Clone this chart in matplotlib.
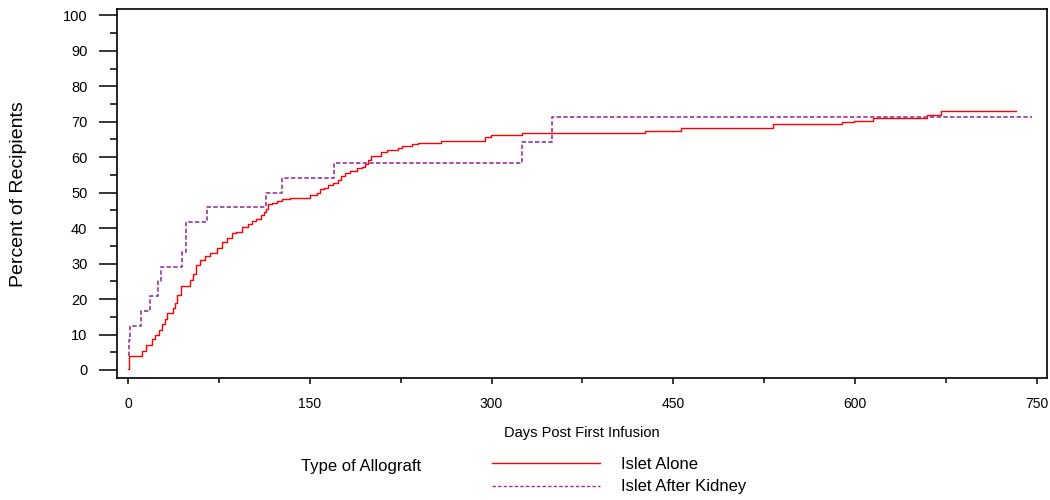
import matplotlib
matplotlib.use("Agg")
import matplotlib.pyplot as plt
from matplotlib.lines import Line2D
from matplotlib.ticker import MultipleLocator

plt.rcParams['font.family'] = ['Liberation Sans', 'DejaVu Sans']

# Islet Alone: cumulative percent, step after each day
alone_days = [0, 0.5, 11.4, 15, 19.6, 22.3, 25.9, 27.8, 30.6, 32, 36.9, 38.5, 40.2, 43.5,
              51.2, 53.9, 56.1, 59.4, 63.5, 67.7, 73.2, 77.3, 81.4, 85.5, 89, 93.8, 98.7,
              102, 106, 109.4, 112.2, 113.8, 115.7, 118.5, 122.6, 126.8, 133.6, 150.2,
              155.6, 158.3, 161.6, 165.2, 169.3, 173.4, 176.2, 179, 183, 188.6, 193.5,
              195.4, 198.1, 200.9, 209.2, 213.8, 222.9, 226.5, 234.7, 239.4, 258.6, 294.3,
              299.8, 325.4, 427, 456, 532, 589, 599.3, 614.4, 659, 670.8, 733]
alone_pct = [0.2, 3.8, 5.4, 7.0, 8.6, 9.8, 11.4, 12.9, 14.5, 16.0, 17.5, 18.9, 21.1, 23.6,
             25.3, 27.2, 29.6, 31.0, 32.1, 32.9, 34.3, 36.1, 37.1, 38.5, 39.0, 40.3, 41.3,
             42.0, 42.5, 43.6, 44.6, 45.5, 46.7, 47.1, 47.7, 48.2, 48.6, 49.3,
             49.8, 50.9, 51.3, 52.1, 52.6, 53.5, 54.6, 55.4, 56.2, 56.9, 57.3,
             58.1, 59.2, 60.4, 61.6, 62.1, 62.5, 63.2, 63.7, 64.1, 64.7, 65.6,
             66.3, 66.8, 67.5, 68.3, 69.3, 69.9, 70.2, 71.1, 71.9, 73.1, 73.1]

# Islet After Kidney
kidney_days = [0, 1, 2, 11, 18, 25, 27, 45, 48, 65, 114, 127, 170, 325, 350, 746]
kidney_pct = [4.17, 8.33, 12.5, 16.67, 20.83, 25.0, 29.17, 33.33, 41.67, 45.83,
              50.0, 54.17, 58.33, 64.29, 71.43, 71.43]

legend_labels = ["Islet Alone", "Islet After Kidney"]
red = "#ff0000"
purple = "#993399"

fig = plt.figure(figsize=(10.5, 5), dpi=100)
ax = fig.add_axes([0.1111, 0.2434, 0.8858, 0.738])

ax.step(alone_days, alone_pct, where='post', color=red, lw=1.0)
ax.step(kidney_days, kidney_pct, where='post', color=purple, lw=1.2,
        linestyle=(0, (2.6, 1.4)))

ax.set_xlim(-9.3, 758.1)
ax.set_ylim(-2.35, 101.7)
ax.xaxis.set_major_locator(MultipleLocator(150))
ax.xaxis.set_minor_locator(MultipleLocator(75))
ax.yaxis.set_major_locator(MultipleLocator(10))
ax.yaxis.set_minor_locator(MultipleLocator(5))

for s in ax.spines.values():
    s.set_linewidth(1.2)
ax.tick_params(axis='y', which='major', length=13, width=1.1, pad=8, labelsize=10.5)
ax.tick_params(axis='y', which='minor', length=5, width=1.1)
ax.tick_params(axis='x', which='major', length=4.5, width=1.1, pad=9, labelsize=10)
ax.tick_params(axis='x', which='minor', length=3.5, width=1.1)

ax.set_xlabel("Days Post First Infusion", fontsize=10.5, va='center')
ax.xaxis.set_label_coords(0.5, -0.148)
ax.set_ylabel("Percent of Recipients", fontsize=14, va='center')
ax.yaxis.set_label_coords(-0.106, 0.5)

# legend row at the bottom
fig.text(300.7 / 1050, 1 - 466.7 / 500, "Type of Allograft", fontsize=12, va='center')
handles = [Line2D([], [], color=red, lw=1.0),
           Line2D([], [], color=purple, lw=1.0, linestyle=(0, (2.5, 1.5)))]
fig.legend(handles, legend_labels, loc='upper left', bbox_to_anchor=(491.7 / 1050, 1 - 457 / 500),
           frameon=False, fontsize=12, handlelength=6.5, handletextpad=1.25,
           labelspacing=0.45, borderpad=0, borderaxespad=0)

fig.savefig("out.png", dpi=100)
